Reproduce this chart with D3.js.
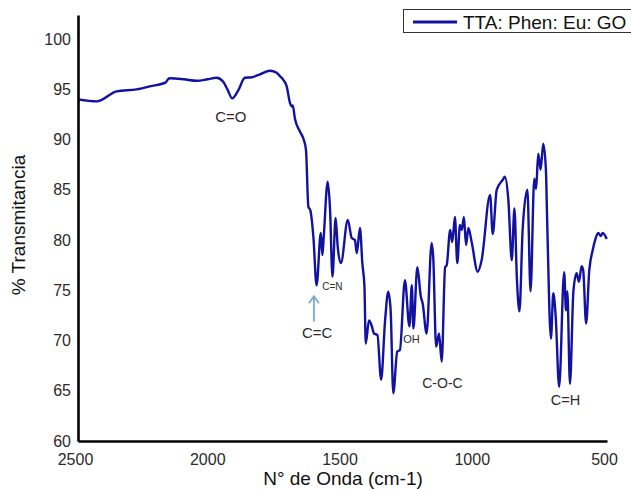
<!DOCTYPE html>
<html>
<head>
<meta charset="utf-8">
<script src="https://cdn.jsdelivr.net/npm/d3@7"></script>
<style>
  html, body { margin: 0; padding: 0; background: #fff; }
  svg { display: block; font-family: "Liberation Sans", Arial, sans-serif; }
</style>
</head>
<body>
<svg width="631" height="489"></svg>
<script>
// Wavenumbers (cm-1)
const wavenumbers = [
  2500, 2429, 2354, 2278, 2228, 2168, 2160, 2152, 2100, 2051, 2010, 1976, 1951, 1935, 1917, 1894,
  1869, 1843, 1812, 1774, 1749, 1736, 1724, 1711, 1698, 1692, 1688, 1680, 1661, 1646, 1638, 1629,
  1622, 1610, 1598, 1582, 1576, 1571, 1556, 1547, 1538, 1526, 1518, 1506, 1480, 1465, 1453, 1446,
  1434, 1425, 1417, 1412, 1400, 1390, 1381, 1368, 1354, 1339, 1327, 1318, 1308, 1293, 1283, 1264,
  1247, 1238, 1232, 1217, 1204, 1197, 1182, 1163, 1157, 1146, 1135, 1125, 1112, 1106, 1093, 1085,
  1075, 1066, 1056, 1049, 1041, 1033, 1024, 1011, 989, 974, 942, 932, 917, 894, 886, 873,
  860, 850, 841, 831, 819, 801, 789, 775, 768, 760, 751, 741, 731, 726, 712, 703,
  694, 681, 662, 655, 650, 640, 627, 615, 606, 596, 590, 579, 567, 554, 545, 533,
  524, 516, 501
];

// % Transmitancia at each wavenumber
const transmittance = [
  94.0, 93.8, 94.8, 95.0, 95.3, 95.7, 96.0, 96.1, 96.0, 95.85, 96.0, 96.15, 95.75, 95.0, 94.1, 94.9,
  96.15, 96.2, 96.5, 96.85, 96.65, 96.3, 95.95, 95.3, 93.6, 93.3, 93.4, 92.1, 90.8, 89.95, 88.96, 83.3,
  83.0, 80.3, 75.5, 80.7, 78.5, 80.3, 85.8, 83.0, 76.35, 82.2, 79.3, 77.7, 82.0, 80.2, 80.0, 78.7,
  81.2, 77.7, 75.35, 69.7, 72.0, 71.5, 70.7, 70.55, 66.1, 72.0, 74.85, 73.0, 64.75, 68.9, 69.05, 76.0,
  71.4, 75.5, 71.2, 77.3, 74.4, 73.7, 70.7, 79.7, 78.3, 69.4, 70.7, 67.9, 77.3, 77.5, 81.0, 79.8,
  82.3, 77.7, 81.5, 81.0, 82.3, 79.5, 81.2, 79.7, 76.85, 78.0, 84.5, 80.6, 85.0, 86.0, 86.3, 84.0,
  78.0, 83.15, 76.35, 72.9, 81.0, 85.0, 74.9, 86.1, 85.1, 88.6, 87.0, 89.6, 87.0, 81.7, 70.2, 74.7,
  72.4, 65.4, 76.8, 73.0, 74.9, 65.7, 74.9, 76.7, 75.85, 77.4, 77.0, 71.7, 77.0, 79.0, 80.0, 80.7,
  80.4, 80.7, 80.1
];

const xTicks = [2500, 2000, 1500, 1000, 500];
const yTicks = [60, 65, 70, 75, 80, 85, 90, 95, 100];

const seriesName = "TTA: Phen: Eu: GO";

// Band labels: text, wavenumber, % value (baseline), font size
const bandLabels = ["C=O", "C=C", "C=N", "OH", "C-O-C", "C=H"];
const bandWave = [1922, 1596, 1538, 1239, 1122, 657];
const bandValue = [91.74, 70.25, 75.0, 69.75, 65.27, 63.58];
const bandSize = [15, 15, 10, 11, 14, 14.5];

// Arrow pointing to the C=C band (from, to)
const arrowWave = 1608;
const arrowFrom = 71.9;
const arrowTo = 74.4;

const svg = d3.select("svg");

const margin = { left: 78, right: 24, top: 15, bottom: 48 };
const width = 631;
const height = 489;

const x = d3.scaleLinear()
  .domain([2500, 500])
  .range([margin.left, width - margin.right]);

const y = d3.scaleLinear()
  .domain([60, 102.4])
  .range([height - margin.bottom, margin.top]);

const data = wavenumbers.map((w, i) => ({ w: w, v: transmittance[i] }));

// Spectrum line
const line = d3.line()
  .x(d => x(d.w))
  .y(d => y(d.v))
  .curve(d3.curveMonotoneX);

svg.append("path")
  .datum(data)
  .attr("d", line)
  .attr("fill", "none")
  .attr("stroke", "#1212a2")
  .attr("stroke-width", 2.4)
  .attr("stroke-linejoin", "round");

// X axis
const xAxis = svg.append("g")
  .attr("transform", `translate(0,${y(60)})`)
  .call(d3.axisBottom(x).tickValues(xTicks).tickFormat(d3.format("d"))
    .tickSize(0).tickSizeOuter(0).tickPadding(13));

// Y axis
const yAxis = svg.append("g")
  .attr("transform", `translate(${x(2500)},0)`)
  .call(d3.axisLeft(y).tickValues(yTicks).tickFormat(d3.format("d"))
    .tickSize(0).tickSizeOuter(0).tickPadding(7));

[xAxis, yAxis].forEach(a => {
  a.select(".domain").attr("stroke", "#000").attr("stroke-width", 2.6);
  a.selectAll("text")
    .attr("fill", "#2b2b2b")
    .style("font-size", "16px")
    .style("font-family", "'Liberation Sans', Arial, sans-serif");
});
xAxis.selectAll("text").attr("dx", -3);

// Axis titles
svg.append("text")
  .text("N° de Onda (cm-1)")
  .attr("x", 343)
  .attr("y", 485)
  .attr("text-anchor", "middle")
  .style("font-size", "19px")
  .attr("fill", "#111");

svg.append("text")
  .text("% Transmitancia")
  .attr("transform", "rotate(-90)")
  .attr("x", -225)
  .attr("y", 25)
  .attr("text-anchor", "middle")
  .style("font-size", "19px")
  .attr("fill", "#111");

// Band annotations
bandLabels.forEach((t, i) => {
  svg.append("text")
    .text(t)
    .attr("x", x(bandWave[i]))
    .attr("y", y(bandValue[i]))
    .attr("text-anchor", "middle")
    .style("font-size", bandSize[i] + "px")
    .attr("fill", "#2b2b2b");
});

// Arrow to C=C
const ax = x(arrowWave);
const ay0 = y(arrowFrom);
const ay1 = y(arrowTo);
svg.append("line")
  .attr("x1", ax).attr("x2", ax)
  .attr("y1", ay0).attr("y2", ay1)
  .attr("stroke", "#78a8da")
  .attr("stroke-width", 1.8);
svg.append("path")
  .attr("d", `M${ax - 5},${ay1 + 7}L${ax},${ay1}L${ax + 5},${ay1 + 7}`)
  .attr("fill", "none")
  .attr("stroke", "#78a8da")
  .attr("stroke-width", 1.8);

// Legend (box runs off the right edge like the original)
const legend = svg.append("g").attr("id", "legend");

legend.append("rect")
  .attr("x", 403.5)
  .attr("y", 9.5)
  .attr("width", 260)
  .attr("height", 23)
  .attr("fill", "#fff")
  .attr("stroke", "#333")
  .attr("stroke-width", 1);

legend.append("line")
  .attr("x1", 413).attr("x2", 457)
  .attr("y1", 22).attr("y2", 22)
  .attr("stroke", "#1212a2")
  .attr("stroke-width", 3);

legend.append("text")
  .text(seriesName)
  .attr("x", 463)
  .attr("y", 28.5)
  .style("font-size", "19px")
  .attr("fill", "#111");
</script>
</body>
</html>
